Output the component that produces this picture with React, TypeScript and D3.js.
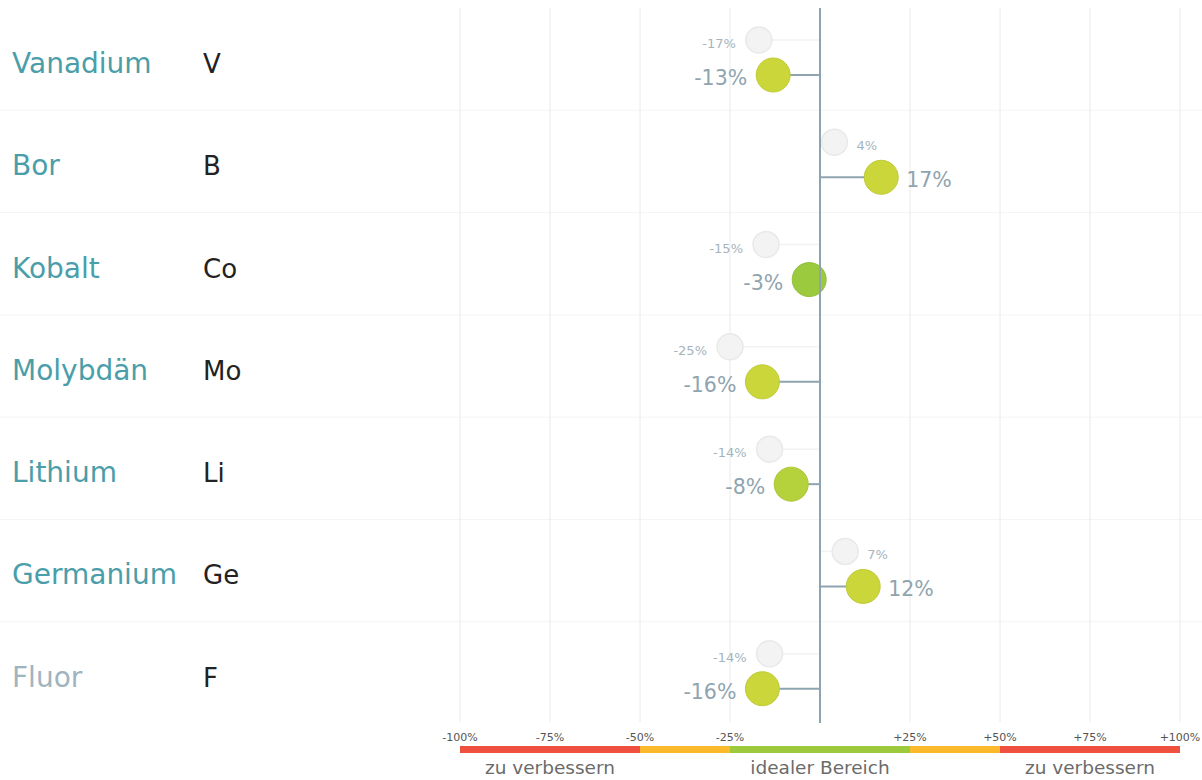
import React from "react";
import * as d3 from "d3";

const names = ["Vanadium", "Bor", "Kobalt", "Molybdän", "Lithium", "Germanium", "Fluor"];
const symbols = ["V", "B", "Co", "Mo", "Li", "Ge", "F"];
const currentValues = [-13, 17, -3, -16, -8, 12, -16];
const previousValues = [-17, 4, -15, -25, -14, 7, -14];
const tickValues = [-100, -75, -50, -25, 25, 50, 75, 100];
const zones = [
  { from: -100, to: -50, color: "#ef5040" },
  { from: -50, to: -25, color: "#fbb92c" },
  { from: -25, to: 25, color: "#9dca3c" },
  { from: 25, to: 50, color: "#fbb92c" },
  { from: 50, to: 100, color: "#ef5040" },
];
const zoneLabels = [
  { at: -75, text: "zu verbessern" },
  { at: 0, text: "idealer Bereich" },
  { at: 75, text: "zu verbessern" },
];

const W = 1202;
const H = 780;
const FONT = "'DejaVu Sans', sans-serif";

export default function App() {
  const x = d3.scaleLinear().domain([-100, 100]).range([460, 1180]);
  const y = d3.scaleBand<number>().domain(d3.range(names.length)).range([8, 724]);
  const color = d3
    .scaleLinear<string>()
    .domain([0, 12])
    .range(["#8cc63f", "#cad63a"])
    .interpolate(d3.interpolateRgb)
    .clamp(true);
  const gridVals = [-100, -75, -50, -25, 25, 50, 75, 100];
  const x0 = x(0);
  const bw = y.bandwidth();
  const rMain = 17;
  const rGhost = 13;

  return (
    <svg width={W} height={H} style={{ position: "absolute", left: 0, top: 0 }} fontFamily={FONT}>
      <rect width={W} height={H} fill="#ffffff" />
      {d3.range(names.length - 1).map((i) => (
        <line key={"sep" + i} x1={0} x2={W} y1={(y(i) as number) + bw} y2={(y(i) as number) + bw} stroke="#f4f4f4" strokeWidth={1} />
      ))}
      {gridVals.map((v) => (
        <line key={"g" + v} x1={x(v)} x2={x(v)} y1={8} y2={722} stroke="#eaeaea" strokeWidth={1} />
      ))}
      {names.map((n, i) => {
        const top = y(i) as number;
        const cy = top + 67;
        const gy = top + 32;
        const cur = currentValues[i];
        const prev = previousValues[i];
        const cx = x(cur);
        const gx = x(prev);
        const curLeft = cur < 0;
        const prevLeft = prev < 0;
        const fillC = color(Math.abs(cur));
        return (
          <g key={n}>
            <text x={12} y={top + 65} fontSize={28} fill={i === names.length - 1 ? "#9fb4bf" : "#4a9ea9"}>
              {n}
            </text>
            <text x={203} y={top + 65} fontSize={26} fill="#222222">
              {symbols[i]}
            </text>
            <line x1={x0} x2={gx} y1={gy} y2={gy} stroke="#f2f2f2" strokeWidth={1.5} />
            <circle cx={gx} cy={gy} r={rGhost} fill="#f3f3f3" stroke="#e9e9e9" strokeWidth={1.5} />
            <text
              x={prevLeft ? gx - rGhost - 10 : gx + rGhost + 9}
              y={gy + 8}
              fontSize={13}
              fill="#a5b4bc"
              textAnchor={prevLeft ? "end" : "start"}
            >
              {prev + "%"}
            </text>
            <line x1={x0} x2={cx} y1={cy} y2={cy} stroke="#8fa4af" strokeWidth={2} />
            <circle cx={cx} cy={cy} r={rMain} fill={fillC} stroke={d3.color(fillC)!.darker(0.15).toString()} strokeWidth={1} />
            <text
              x={curLeft ? cx - rMain - 9 : cx + rMain + 8}
              y={cy + 10}
              fontSize={20.5}
              fill="#8fa4af"
              textAnchor={curLeft ? "end" : "start"}
            >
              {cur + "%"}
            </text>
          </g>
        );
      })}
      <line x1={x0} x2={x0} y1={8} y2={723} stroke="#8da3ae" strokeWidth={2} />
      {tickValues.map((v) => (
        <text key={"t" + v} x={x(v)} y={741} fontSize={11} fill="#555555" textAnchor="middle">
          {(v > 0 ? "+" : "") + v + "%"}
        </text>
      ))}
      {zones.map((z, i) => (
        <rect key={"z" + i} x={x(z.from)} y={746} width={x(z.to) - x(z.from)} height={7} fill={z.color} />
      ))}
      {zoneLabels.map((z, i) => (
        <text key={"zl" + i} x={x(z.at)} y={774} fontSize={18.5} fill="#6b6b6b" textAnchor="middle">
          {z.text}
        </text>
      ))}
    </svg>
  );
}
